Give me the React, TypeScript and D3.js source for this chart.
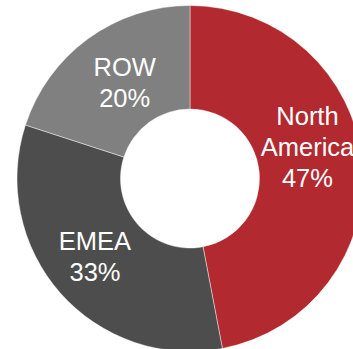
import React from "react";
import * as d3 from "d3";

const categories: string[] = ["North America", "EMEA", "ROW"];
const values: number[] = [47, 33, 20];
const colors: string[] = ["#B2292F", "#4D4D4D", "#808080"];
const labelLines: string[][] = [["North", "America"], ["EMEA"], ["ROW"]];

const W = 353;
const H = 349;
const CX = 190;
const CY = 178.5;
const R_OUT = 173;
const R_IN = 69.5;
const LABEL_R = 118;
const FONT = 25.5;
const LINE = 31;
const CAP = 18.5;

// small nudges (in px) applied to the label anchors
const nudges: [number, number][] = [
  [0, -21],
  [-6.5, 0],
  [4, -1],
];

export default function App() {
  const total = d3.sum(values);
  const pie = d3
    .pie<number>()
    .sort(null)
    .value((d) => d)
    .startAngle(0)
    .endAngle(2 * Math.PI);
  const arcs = pie(values);
  const arcGen = d3.arc<d3.PieArcDatum<number>>().innerRadius(R_IN).outerRadius(R_OUT);
  const labelArc = d3.arc<d3.PieArcDatum<number>>().innerRadius(LABEL_R).outerRadius(LABEL_R);

  return (
    <div style={{ position: "fixed", left: 0, top: 0, width: W, height: H, background: "#fff" }}>
      <svg width={W} height={H} style={{ display: "block" }}>
        <g transform={`translate(${CX},${CY})`}>
          {arcs.map((a, i) => (
            <path
              key={categories[i]}
              d={arcGen(a) || ""}
              fill={colors[i]}
              stroke="#ffffff"
              strokeOpacity={0.55}
              strokeWidth={0.8}
            />
          ))}
          {arcs.map((a, i) => {
            const [x0, y0] = labelArc.centroid(a);
            const x = x0 + nudges[i][0];
            const y = y0 + nudges[i][1];
            const lines = [...labelLines[i], `${Math.round((values[i] / total) * 100)}%`];
            const blockH = CAP + (lines.length - 1) * LINE;
            const first = y - blockH / 2 + CAP;
            return (
              <text
                key={"l" + i}
                x={x}
                textAnchor="middle"
                fill="#ffffff"
                fontFamily="'Liberation Sans', Arial, sans-serif"
                fontSize={FONT}
              >
                {lines.map((t, j) => (
                  <tspan key={j} x={x} y={first + j * LINE}>
                    {t}
                  </tspan>
                ))}
              </text>
            );
          })}
        </g>
      </svg>
    </div>
  );
}
